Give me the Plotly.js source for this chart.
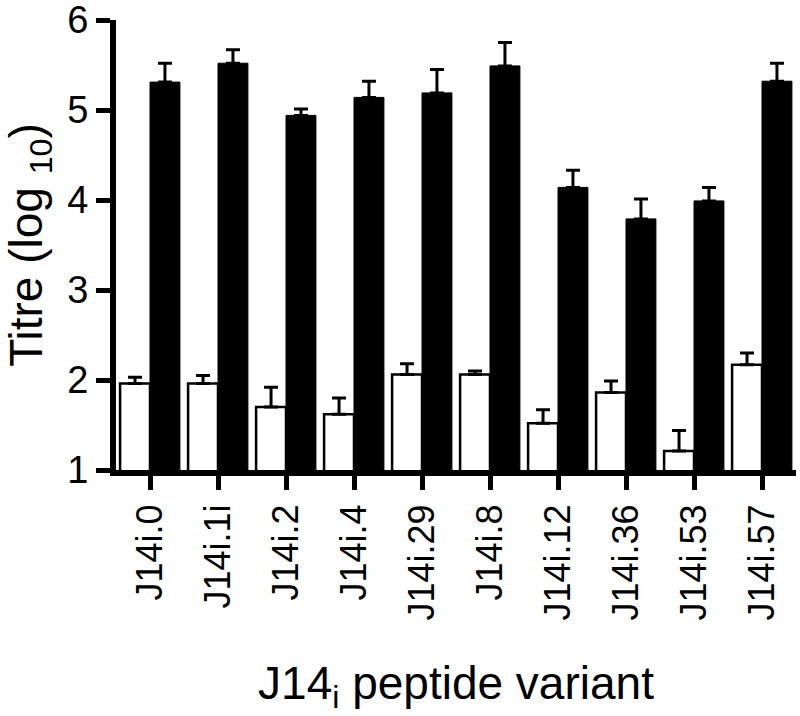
<!DOCTYPE html>
<html>
<head>
<meta charset="utf-8">
<script src="https://cdn.plot.ly/plotly-3.0.1.min.js"></script>
<style>
html,body{margin:0;padding:0;background:#fff;}
#chart{width:800px;height:716px;}
</style>
</head>
<body>
<div id="chart"></div>
<script>
var categories = ["J14i.0","J14i.1i","J14i.2","J14i.4","J14i.29","J14i.8","J14i.12","J14i.36","J14i.53","J14i.57"];
var whiteValues = [1.96, 1.96, 1.70, 1.62, 2.06, 2.06, 1.52, 1.86, 1.21, 2.17];
var whiteErrors = [0.07, 0.09, 0.22, 0.18, 0.12, 0.04, 0.15, 0.13, 0.23, 0.13];
var blackValues = [5.31, 5.52, 4.94, 5.14, 5.19, 5.49, 4.14, 3.79, 3.99, 5.32];
var blackErrors = [0.21, 0.15, 0.07, 0.18, 0.26, 0.26, 0.19, 0.22, 0.15, 0.20];
var yTicks = [1, 2, 3, 4, 5, 6];

function zeros(n){ var a=[]; for(var i=0;i<n;i++) a.push(0); return a; }

var font = "Liberation Sans, Arial, Helvetica, sans-serif";

var traceWhite = {
  type: "bar",
  x: categories,
  y: whiteValues,
  marker: {color: "#ffffff", line: {color: "#000000", width: 2.5}},
  error_y: {type: "data", array: whiteErrors, arrayminus: zeros(whiteErrors.length), symmetric: false,
            color: "#000000", thickness: 3, width: 7},
  hoverinfo: "none"
};
var traceBlack = {
  type: "bar",
  x: categories,
  y: blackValues,
  marker: {color: "#000000", line: {color: "#000000", width: 1}},
  error_y: {type: "data", array: blackErrors, arrayminus: zeros(blackErrors.length), symmetric: false,
            color: "#000000", thickness: 3, width: 7},
  hoverinfo: "none"
};

var layout = {
  width: 800, height: 716,
  margin: {l: 116, r: 4, t: 20, b: 246},
  paper_bgcolor: "#ffffff", plot_bgcolor: "#ffffff",
  showlegend: false,
  barmode: "group",
  bargap: 0.12,
  bargroupgap: 0,
  font: {family: font, color: "#000000", size: 36},
  xaxis: {
    type: "category",
    range: [-0.5, 9.5],
    showline: true, linecolor: "#000000", linewidth: 6,
    ticks: "outside", ticklen: 14, tickwidth: 5, tickcolor: "#000000",
    tickangle: -90,
    tickfont: {family: font, size: 36, color: "#000000"},
    showgrid: false, zeroline: false,
    automargin: false,
    title: {text: "J14<sub>i</sub> peptide variant", font: {family: font, size: 46, color: "#000000"}, standoff: 49}
  },
  yaxis: {
    range: [1, 6],
    tickmode: "array",
    tickvals: yTicks,
    ticktext: yTicks.map(String),
    ticklabeloverflow: "allow",
    showline: true, linecolor: "#000000", linewidth: 6,
    ticks: "outside", ticklen: 14, tickwidth: 5, tickcolor: "#000000",
    tickfont: {family: font, size: 38, color: "#000000"},
    showgrid: false, zeroline: false,
    automargin: false,
    title: {text: "Titre (log <sub>10</sub>)", font: {family: font, size: 46, color: "#000000"}, standoff: 20}
  }
};

Plotly.newPlot("chart", [traceWhite, traceBlack], layout, {staticPlot: true, displayModeBar: false});
</script>
</body>
</html>
